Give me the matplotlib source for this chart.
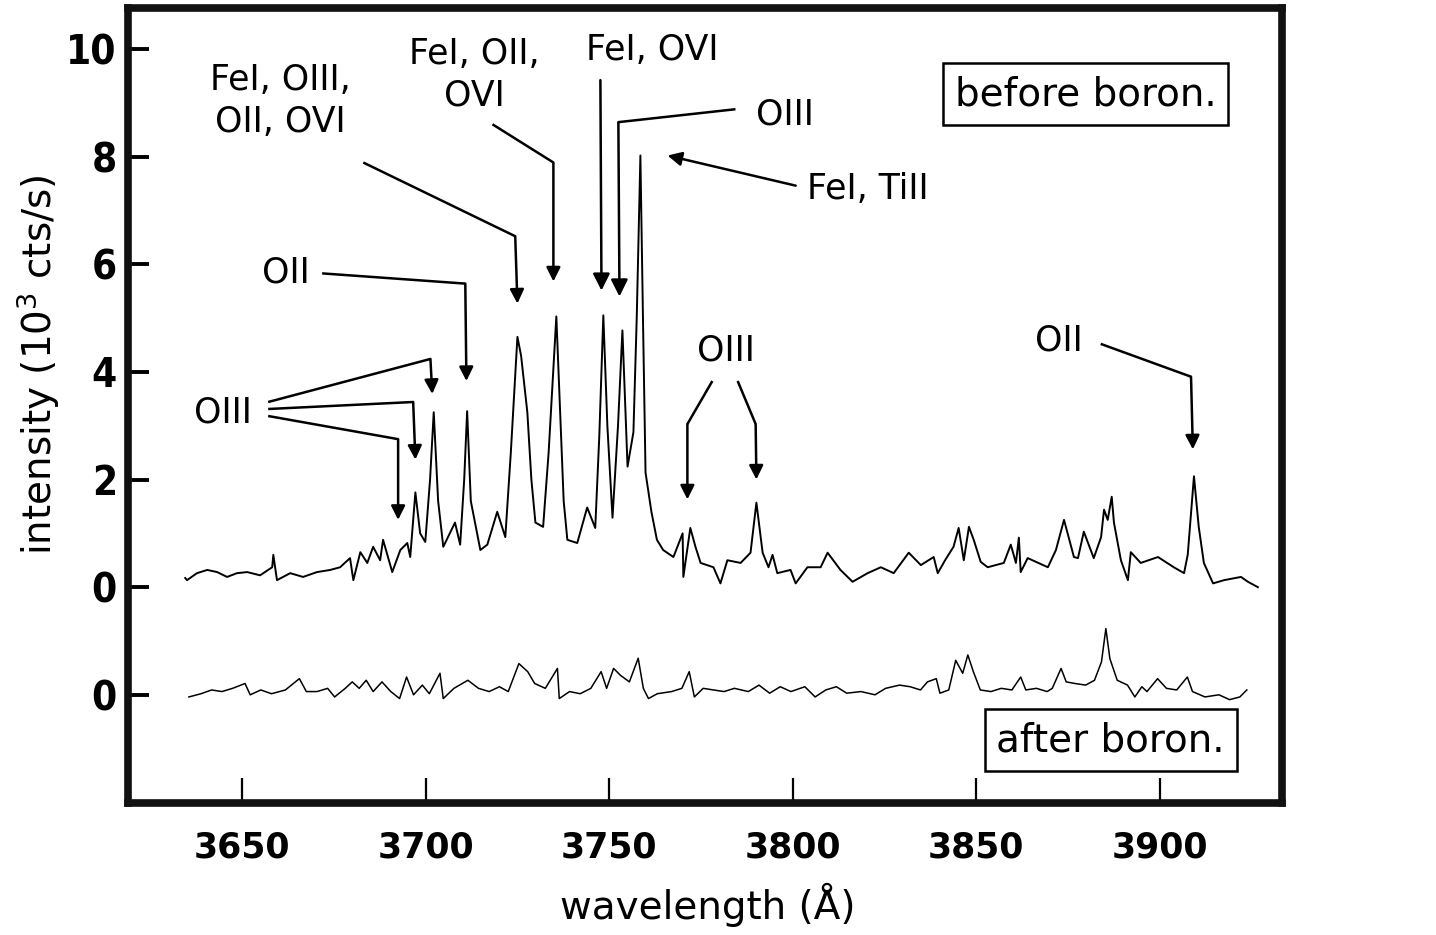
import matplotlib
matplotlib.use("Agg")
import matplotlib.pyplot as plt

# spectrum before boronization (wavelength in A, intensity in 10^3 cts/s)
wl_before = [3634.5, 3635.0, 3637.7, 3640.5, 3643.2, 3645.9, 3648.6, 3651.4, 3654.9, 3658.2,
             3658.5, 3659.5, 3663.1, 3666.6, 3670.4, 3674.0, 3676.7, 3679.4, 3680.3, 3682.2,
             3684.1, 3685.7, 3687.6, 3688.4, 3690.9, 3693.1, 3695.0, 3695.8, 3697.2, 3698.5,
             3699.9, 3701.2, 3702.2, 3703.4, 3704.8, 3708.0, 3709.4, 3710.5, 3711.3, 3712.3,
             3714.9, 3716.8, 3719.5, 3721.7, 3723.2, 3725.0, 3726.0, 3727.7, 3728.8, 3729.9,
             3732.0, 3733.5, 3735.6, 3736.8, 3737.6, 3738.6, 3741.3, 3744.0, 3746.2, 3747.3,
             3748.4, 3749.5, 3750.9, 3752.4, 3753.6, 3754.3, 3755.0, 3756.6, 3757.5, 3758.5,
             3759.2, 3759.9, 3761.5, 3763.0, 3764.7, 3767.5, 3770.0, 3770.2, 3772.1, 3773.5,
             3774.9, 3778.4, 3780.3, 3782.2, 3785.8, 3788.5, 3790.1, 3791.8, 3793.4, 3794.5,
             3795.8, 3799.4, 3800.8, 3804.0, 3807.6, 3809.5, 3813.0, 3816.3, 3820.4, 3824.0,
             3827.5, 3831.6, 3834.9, 3838.4, 3839.5, 3841.5, 3843.8, 3845.2, 3846.6, 3848.0,
             3849.3, 3851.2, 3853.1, 3857.5, 3859.4, 3860.8, 3861.6, 3862.1, 3864.0, 3869.5,
             3871.7, 3873.9, 3876.6, 3877.7, 3879.3, 3882.0, 3884.0, 3884.8, 3885.8, 3886.9,
             3887.5, 3889.4, 3891.3, 3892.1, 3894.8, 3899.5, 3903.8, 3906.6, 3907.6, 3909.3,
             3910.6, 3912.0, 3914.5, 3917.5, 3922.1, 3924.0, 3926.7]
int_before = [0.17, 0.13, 0.26, 0.32, 0.28, 0.19, 0.26, 0.28, 0.22, 0.37,
              0.60, 0.13, 0.26, 0.19, 0.28, 0.32, 0.37, 0.54, 0.13, 0.65,
              0.45, 0.75, 0.50, 0.88, 0.28, 0.69, 0.82, 0.56, 1.76, 1.00,
              0.84, 2.00, 3.25, 1.60, 0.75, 1.20, 0.79, 2.00, 3.27, 1.60,
              0.69, 0.79, 1.40, 0.93, 2.50, 4.65, 4.30, 3.25, 2.00, 1.20,
              1.12, 2.50, 5.03, 3.00, 1.60, 0.88, 0.82, 1.48, 1.10, 2.80,
              5.05, 3.00, 1.29, 3.00, 4.77, 3.50, 2.24, 2.88, 5.00, 8.02,
              5.00, 2.13, 1.40, 0.88, 0.69, 0.56, 1.00, 0.19, 1.10, 0.75,
              0.45, 0.37, 0.07, 0.50, 0.45, 0.64, 1.57, 0.64, 0.37, 0.60,
              0.26, 0.32, 0.07, 0.37, 0.37, 0.64, 0.32, 0.10, 0.26, 0.37,
              0.26, 0.64, 0.41, 0.56, 0.26, 0.50, 0.75, 1.10, 0.50, 1.12,
              0.88, 0.47, 0.37, 0.45, 0.79, 0.45, 0.92, 0.28, 0.54, 0.37,
              0.69, 1.25, 0.56, 0.54, 1.03, 0.54, 0.93, 1.44, 1.25, 1.68,
              1.20, 0.50, 0.13, 0.65, 0.45, 0.56, 0.37, 0.26, 0.60, 2.06,
              1.12, 0.45, 0.07, 0.13, 0.19, 0.10, 0.00]

# spectrum after boronization
wl_after = [3635.5, 3638.8, 3641.7, 3644.5, 3647.4, 3650.8, 3652.2, 3655.1, 3658.0, 3661.8,
            3665.6, 3667.5, 3670.4, 3673.3, 3675.2, 3678.1, 3680.0, 3681.9, 3683.8, 3685.7,
            3688.1, 3690.5, 3692.9, 3694.8, 3696.7, 3699.1, 3701.0, 3703.9, 3704.8, 3707.7,
            3711.5, 3714.4, 3717.3, 3720.1, 3722.5, 3725.4, 3727.8, 3729.7, 3732.6, 3735.9,
            3736.4, 3739.2, 3742.1, 3745.0, 3747.8, 3749.3, 3751.2, 3753.1, 3755.5, 3757.9,
            3759.3, 3760.7, 3763.1, 3767.0, 3769.8, 3771.8, 3773.2, 3775.6, 3778.4, 3781.3,
            3784.1, 3787.9, 3790.8, 3793.7, 3796.6, 3799.5, 3803.3, 3806.1, 3809.0, 3811.9,
            3814.7, 3818.6, 3822.4, 3825.3, 3829.1, 3832.0, 3834.8, 3836.7, 3839.1, 3840.1,
            3842.5, 3844.4, 3846.3, 3847.7, 3849.2, 3851.1, 3854.0, 3856.8, 3859.7, 3862.1,
            3863.5, 3866.4, 3869.3, 3870.7, 3873.1, 3874.5, 3876.9, 3879.8, 3882.2, 3884.1,
            3885.3, 3886.4, 3888.4, 3891.2, 3893.2, 3895.1, 3896.5, 3899.4, 3901.8, 3904.6,
            3907.5, 3908.9, 3912.3, 3916.1, 3919.0, 3921.8, 3923.7]
int_after = [-0.04, 0.02, 0.09, 0.06, 0.12, 0.21, 0.00, 0.09, 0.02, 0.09,
             0.30, 0.06, 0.06, 0.12, -0.04, 0.12, 0.24, 0.12, 0.27, 0.06,
             0.24, 0.06, -0.07, 0.33, 0.00, 0.18, 0.02, 0.40, -0.07, 0.12,
             0.27, 0.12, 0.06, 0.15, 0.06, 0.58, 0.43, 0.21, 0.12, 0.49,
             -0.07, 0.06, 0.02, 0.12, 0.43, 0.12, 0.49, 0.36, 0.24, 0.68,
             0.12, -0.07, 0.02, 0.06, 0.12, 0.43, -0.04, 0.12, 0.09, 0.06,
             0.12, 0.06, 0.18, 0.03, 0.15, 0.06, 0.15, -0.04, 0.09, 0.15,
             0.03, 0.06, 0.00, 0.12, 0.18, 0.15, 0.09, 0.24, 0.30, 0.03,
             0.09, 0.64, 0.40, 0.74, 0.43, 0.09, 0.06, 0.12, 0.09, 0.33,
             0.09, 0.12, 0.06, 0.12, 0.49, 0.24, 0.21, 0.18, 0.27, 0.61,
             1.23, 0.67, 0.27, 0.18, -0.04, 0.15, 0.06, 0.30, 0.12, 0.09,
             0.33, 0.06, -0.04, 0.00, -0.09, -0.04, 0.09]

after_offset = -2.0
xticks = [3650, 3700, 3750, 3800, 3850, 3900]
yticks = [10, 8, 6, 4, 2, 0, -2]
ytick_labels = ["10", "8", "6", "4", "2", "0", "0"]

fig = plt.figure(figsize=(14.36, 9.35), dpi=100)
ax = fig.add_axes([0.0891, 0.1412, 0.8037, 0.8502])

ax.plot(wl_before, int_before, color="black", lw=1.4)
ax.plot(wl_after, [v + after_offset for v in int_after], color="black", lw=1.1)

ax.set_xlim(3618.9, 3933.3)
ax.set_ylim(-4.01, 10.76)

for s in ax.spines.values():
    s.set_linewidth(5.5)
    s.set_color("#111111")

ax.set_xticks(xticks)
ax.set_yticks(yticks)
ax.set_yticklabels(ytick_labels)
ax.tick_params(axis="y", direction="in", length=15, width=2.8, labelsize=29, pad=8)
ax.tick_params(axis="x", direction="in", length=18, width=1.6, labelsize=25, pad=20)
for lab in ax.get_yticklabels():
    lab.set_fontweight("bold")
    lab.set_fontstretch("condensed")
for lab in ax.get_xticklabels():
    lab.set_fontweight("bold")

ax.set_xlabel("wavelength (Å)", fontsize=28)
ax.set_ylabel("intensity (10$^3$ cts/s)", fontsize=28)
ax.xaxis.set_label_coords(0.502, -0.128)
ax.xaxis.label.set_va("center")
ax.yaxis.set_label_coords(-0.078, 0.551)
ax.yaxis.label.set_va("center")


def leader(pts, big=False):
    xs = [p[0] for p in pts]
    ys = [p[1] for p in pts]
    ax.plot(xs[:-1], ys[:-1], color="black", lw=1.8, solid_capstyle="butt")
    ms = 17 if big else 14
    ax.annotate("", xy=pts[-1], xytext=pts[-2],
                arrowprops=dict(arrowstyle="-|>,head_length=0.6,head_width=0.3",
                                color="black", lw=1.8, mutation_scale=ms,
                                shrinkA=0, shrinkB=0))


fs = 25
ax.text(3660.4, 9.03, "FeI, OIII,\nOII, OVI", fontsize=fs, ha="center", va="center", linespacing=1.3)
ax.text(3713.3, 9.52, "FeI, OII,\nOVI", fontsize=fs, ha="center", va="center", linespacing=1.3)
ax.text(3761.8, 9.98, "FeI, OVI", fontsize=fs, ha="center", va="center")
ax.text(3798.0, 8.79, "OIII", fontsize=fs, ha="center", va="center")
ax.text(3820.4, 7.40, "FeI, TiII", fontsize=fs, ha="center", va="center")
ax.text(3662.0, 5.84, "OII", fontsize=fs, ha="center", va="center")
ax.text(3644.8, 3.25, "OIII", fontsize=fs, ha="center", va="center")
ax.text(3781.7, 4.39, "OIII", fontsize=fs, ha="center", va="center")
ax.text(3872.5, 4.59, "OII", fontsize=fs, ha="center", va="center")

leader([(3683.0, 7.89), (3724.4, 6.52), (3725.0, 5.27)])
leader([(3718.2, 8.60), (3734.8, 7.89), (3734.8, 5.68)])
leader([(3747.6, 9.42), (3747.9, 5.51)], big=True)
leader([(3784.4, 8.88), (3752.5, 8.64), (3752.8, 5.40)], big=True)
leader([(3800.8, 7.46), (3765.9, 8.02)])
leader([(3671.8, 5.83), (3710.8, 5.64), (3711.1, 3.83)])
leader([(3657.1, 3.44), (3701.3, 4.24), (3701.8, 3.59)])
leader([(3657.1, 3.31), (3696.6, 3.44), (3697.2, 2.37)])
leader([(3657.1, 3.18), (3692.5, 2.75), (3692.5, 1.25)])
leader([(3778.1, 3.83), (3771.3, 3.03), (3771.3, 1.63)])
leader([(3785.0, 3.83), (3789.9, 3.03), (3790.1, 2.00)])
leader([(3883.9, 4.52), (3908.5, 3.91), (3909.0, 2.56)])

box = dict(boxstyle="square,pad=0.3", facecolor="white", edgecolor="black", lw=1.8)
ax.text(3879.8, 9.16, "before boron.", fontsize=28, ha="center", va="center", bbox=box)
ax.text(3886.6, -2.84, "after boron.", fontsize=28, ha="center", va="center", bbox=box)

fig.savefig("out.png", dpi=100)
